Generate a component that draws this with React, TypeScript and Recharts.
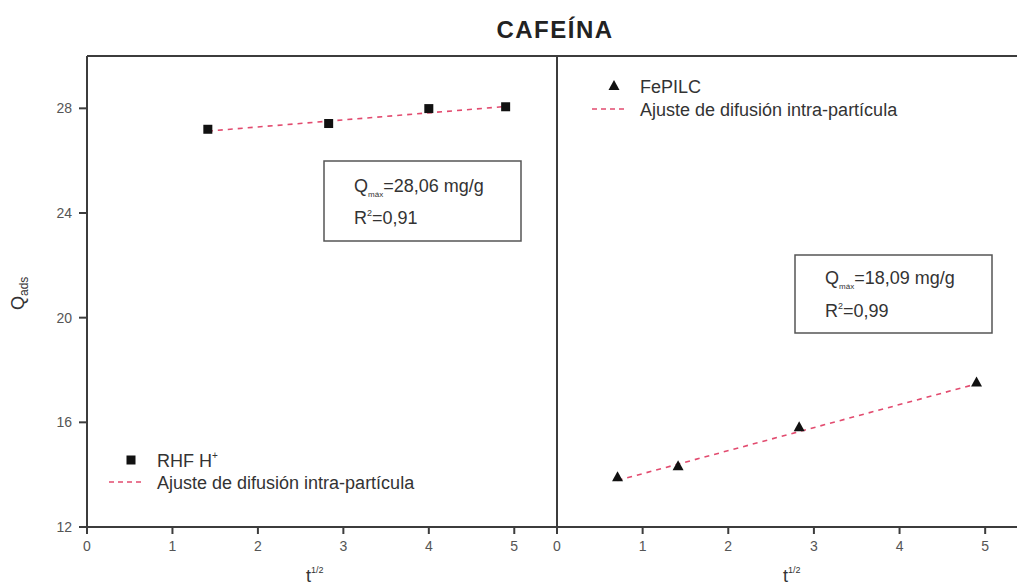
import React from 'react';
import { ScatterChart, Scatter, XAxis, YAxis, ReferenceLine } from 'recharts';

// t^1/2 ticks and Q_ads ticks shared by both panels
const xTicks = [0, 1, 2, 3, 4, 5];
const yTicks = [12, 16, 20, 24, 28];

// RHF H+ (left panel)
const rhfX = [1.414, 2.828, 4.0, 4.899];
const rhfY = [27.2, 27.42, 27.99, 28.06];
const rhfFitX = [1.414, 4.899];
const rhfFitY = [27.13, 28.07];

// FePILC (right panel)
const feX = [0.707, 1.414, 2.828, 4.899];
const feY = [13.9, 14.32, 15.81, 17.52];
const feFitX = [0.707, 4.899];
const feFitY = [13.78, 17.47];

const zip = (xs: number[], ys: number[]) => xs.map((x, i) => ({ x, y: ys[i] }));

const FONT = '"Liberation Sans", Arial, sans-serif';
const AXIS = '#3c3c3c';
const TICK_TEXT = '#555';
const TEXT = '#333';
const FIT = '#e24b6f';

const H = 585;
const TOP = 56;
const BOTTOM_MARGIN = 28; // 585 - 527 - xAxis height

const Square = (props: any) => {
  const { cx, cy } = props;
  return <rect x={cx - 4.5} y={cy - 4.5} width={9} height={9} fill="#111" />;
};

const Triangle = (props: any) => {
  const { cx, cy } = props;
  return <polygon points={`${cx},${cy - 6} ${cx - 5.5},${cy + 4} ${cx + 5.5},${cy + 4}`} fill="#111" />;
};

const NoDot = () => <g />;

const tickStyle = { fill: TICK_TEXT, fontSize: 14, fontFamily: FONT };

const Overlay = () => (
  <svg
    width={1017}
    height={H}
    style={{ position: 'absolute', left: 0, top: 0, pointerEvents: 'none' }}
    fontFamily={FONT}
  >
    <text x={555} y={38} textAnchor="middle" fontSize={24} fontWeight="bold" fill="#222" letterSpacing={1.5}>
      CAFEÍNA
    </text>

    {/* axis titles */}
    <text transform="translate(24,310) rotate(-90)" fontSize={18} fill={TEXT}>
      Q<tspan fontSize={12} dy={4}>ads</tspan>
    </text>
    <text x={306} y={582} fontSize={18} fill={TEXT}>
      t<tspan fontSize={9} dy={-9}>1/2</tspan>
    </text>
    <text x={783} y={582} fontSize={18} fill={TEXT}>
      t<tspan fontSize={9} dy={-9}>1/2</tspan>
    </text>

    {/* left legend */}
    <rect x={126.5} y={455.5} width={9} height={9} fill="#111" />
    <text x={157} y={466.5} fontSize={18} fill={TEXT}>
      RHF H<tspan fontSize={10} dy={-8}>+</tspan>
    </text>
    <line x1={109} y1={482} x2={142} y2={482} stroke={FIT} strokeWidth={1.6} strokeDasharray="5 4" />
    <text x={157} y={488.5} fontSize={18} fill={TEXT}>
      Ajuste de difusión intra-partícula
    </text>

    {/* right legend */}
    <polygon points="614,80 608.5,90 619.5,90" fill="#111" />
    <text x={640} y={92.5} fontSize={18} fill={TEXT}>
      FePILC
    </text>
    <line x1={592} y1={109} x2={625} y2={109} stroke={FIT} strokeWidth={1.6} strokeDasharray="5 4" />
    <text x={640} y={115.5} fontSize={18} fill={TEXT}>
      Ajuste de difusión intra-partícula
    </text>

    {/* fit parameter boxes */}
    <rect x={324} y={161} width={197} height={80} fill="none" stroke="#555" strokeWidth={1.5} />
    <text x={354} y={191.5} fontSize={18} fill={TEXT}>
      Q<tspan fontSize={8} dy={5}>máx</tspan>
      <tspan dy={-5}>=28,06 mg/g</tspan>
    </text>
    <text x={354} y={223.5} fontSize={18} fill={TEXT}>
      R<tspan fontSize={9} dy={-8}>2</tspan>
      <tspan dy={8}>=0,91</tspan>
    </text>

    <rect x={795} y={255} width={197} height={78} fill="none" stroke="#555" strokeWidth={1.5} />
    <text x={825} y={283.5} fontSize={18} fill={TEXT}>
      Q<tspan fontSize={8} dy={5}>máx</tspan>
      <tspan dy={-5}>=18,09 mg/g</tspan>
    </text>
    <text x={825} y={316.5} fontSize={18} fill={TEXT}>
      R<tspan fontSize={9} dy={-8}>2</tspan>
      <tspan dy={8}>=0,99</tspan>
    </text>
  </svg>
);

export default function App() {
  const rhf = zip(rhfX, rhfY);
  const rhfFit = zip(rhfFitX, rhfFitY);
  const fe = zip(feX, feY);
  const feFit = zip(feFitX, feFitY);

  return (
    <div
      style={{
        position: 'absolute',
        left: 0,
        top: 0,
        width: 1017,
        height: H,
        overflow: 'hidden',
        background: '#fff',
      }}
    >
      {/* left panel */}
      <div style={{ position: 'absolute', left: 0, top: 0 }}>
        <ScatterChart width={557} height={H} margin={{ top: TOP, right: 0, bottom: BOTTOM_MARGIN, left: 0 }}>
          <XAxis
            type="number"
            dataKey="x"
            domain={[0, 5.5]}
            ticks={xTicks}
            height={30}
            tickSize={7}
            tickMargin={7}
            tick={tickStyle}
            stroke={AXIS}
            strokeWidth={2}
            allowDataOverflow
          />
          <YAxis
            type="number"
            dataKey="y"
            domain={[12, 30]}
            ticks={yTicks}
            width={87}
            tickSize={8}
            tickMargin={7}
            tick={tickStyle}
            stroke={AXIS}
            strokeWidth={2}
            allowDataOverflow
          />
          <ReferenceLine y={30} stroke={AXIS} strokeWidth={2} />
          <Scatter
            data={rhfFit}
            line={{ stroke: FIT, strokeWidth: 1.6, strokeDasharray: '5 5' }}
            shape={NoDot}
            isAnimationActive={false}
          />
          <Scatter data={rhf} shape={Square} isAnimationActive={false} />
        </ScatterChart>
      </div>

      {/* right panel */}
      <div style={{ position: 'absolute', left: 547, top: 0 }}>
        <ScatterChart width={481} height={H} margin={{ top: TOP, right: 0, bottom: BOTTOM_MARGIN, left: 10 }}>
          <XAxis
            type="number"
            dataKey="x"
            domain={[0, 5.5]}
            ticks={xTicks}
            height={30}
            tickSize={7}
            tickMargin={7}
            tick={tickStyle}
            stroke={AXIS}
            strokeWidth={2}
            allowDataOverflow
          />
          <YAxis
            type="number"
            dataKey="y"
            domain={[12, 30]}
            ticks={yTicks}
            mirror
            tick={false}
            tickSize={8}
            stroke={AXIS}
            strokeWidth={2}
            allowDataOverflow
          />
          <ReferenceLine y={30} stroke={AXIS} strokeWidth={2} />
          <Scatter
            data={feFit}
            line={{ stroke: FIT, strokeWidth: 1.6, strokeDasharray: '5 5' }}
            shape={NoDot}
            isAnimationActive={false}
          />
          <Scatter data={fe} shape={Triangle} isAnimationActive={false} />
        </ScatterChart>
      </div>

      <Overlay />
    </div>
  );
}
